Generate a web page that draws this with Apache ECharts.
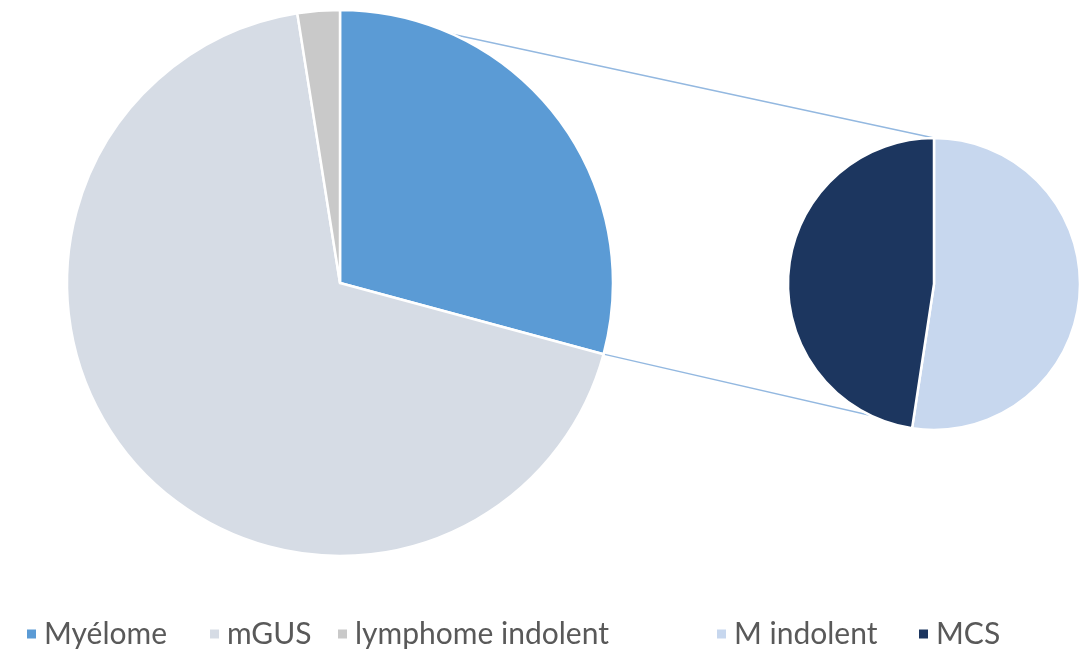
<!DOCTYPE html>
<html>
<head>
<meta charset="utf-8">
<script src="https://cdn.jsdelivr.net/npm/echarts@6/dist/echarts.min.js"></script>
<style>
  html, body { margin: 0; padding: 0; background: #ffffff; }
  #chart { width: 1081px; height: 650px; }
</style>
</head>
<body>
<div id="chart"></div>
<script>
// Primary pie: share of each diagnosis (percent)
const mainNames = ['Myélome', 'mGUS', 'lymphome indolent'];
const mainValues = [29.2, 68.3, 2.5];
// Secondary pie: breakdown of the detailed group (percent)
const subNames = ['M indolent', 'MCS'];
const subValues = [52.4, 47.6];

const palette = {
  'Myélome': '#5B9BD5',
  'mGUS': '#D6DCE5',
  'lymphome indolent': '#C9C9C9',
  'M indolent': '#C7D7EE',
  'MCS': '#1C365F'
};

// Layout of the two pies
const mainCenter = [340, 283], mainR = 273;
const subCenter = [934, 284], subR = 146;
const legendLeft = [20, 203, 331, 710, 912];

const chart = echarts.init(document.getElementById('chart'), null, { renderer: 'canvas' });

// Connector lines: from the outer ends of the first slice's edges
// to the top and bottom of the secondary pie.
const total = mainValues.reduce((a, b) => a + b, 0);
const sweep = mainValues[0] / total * 2 * Math.PI;
const a0 = Math.PI / 2;            // slice starts at 12 o'clock
const a1 = Math.PI / 2 - sweep;    // clockwise end of the slice
const p0 = [mainCenter[0] + mainR * Math.cos(a0), mainCenter[1] - mainR * Math.sin(a0)];
const p1 = [mainCenter[0] + mainR * Math.cos(a1), mainCenter[1] - mainR * Math.sin(a1)];
const q0 = [subCenter[0], subCenter[1] - subR];
const q1 = [subCenter[0], subCenter[1] + subR];

const legends = mainNames.concat(subNames).map((name, i) => ({
  data: [name],
  left: legendLeft[i],
  top: 614,
  icon: 'rect',
  itemWidth: 11,
  itemHeight: 11,
  selectedMode: false,
  textStyle: {
    fontFamily: 'Lato',
    fontSize: 30,
    color: '#595959',
    padding: [0, 0, 0, 2]
  }
}));

chart.setOption({
  animation: false,
  backgroundColor: '#ffffff',
  legend: legends,
  graphic: [
    { type: 'line', z: 0, silent: true,
      shape: { x1: p0[0], y1: p0[1], x2: q0[0], y2: q0[1] },
      style: { stroke: '#93B8E0', lineWidth: 1.3 } },
    { type: 'line', z: 0, silent: true,
      shape: { x1: p1[0], y1: p1[1], x2: q1[0], y2: q1[1] },
      style: { stroke: '#93B8E0', lineWidth: 1.3 } }
  ],
  series: [
    {
      type: 'pie',
      z: 3,
      center: mainCenter,
      radius: mainR,
      startAngle: 90,
      clockwise: true,
      silent: true,
      label: { show: false },
      labelLine: { show: false },
      itemStyle: { borderColor: '#ffffff', borderWidth: 2.5 },
      data: mainNames.map((n, i) => ({ name: n, value: mainValues[i], itemStyle: { color: palette[n] } }))
    },
    {
      type: 'pie',
      z: 3,
      center: subCenter,
      radius: subR,
      startAngle: 90,
      clockwise: true,
      silent: true,
      label: { show: false },
      labelLine: { show: false },
      itemStyle: { borderColor: '#ffffff', borderWidth: 2.5 },
      data: subNames.map((n, i) => ({ name: n, value: subValues[i], itemStyle: { color: palette[n] } }))
    }
  ]
});
</script>
</body>
</html>
